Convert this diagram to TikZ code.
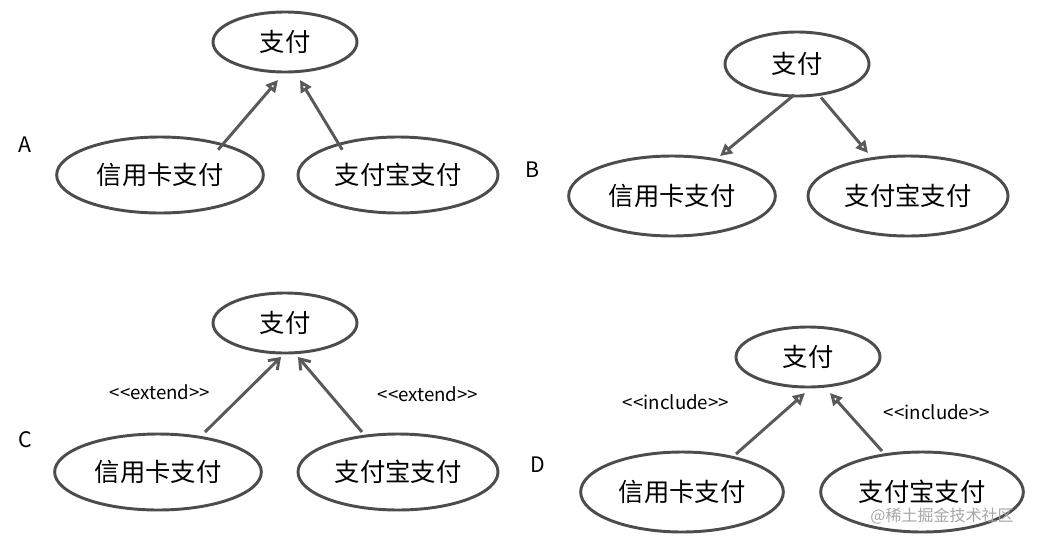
\documentclass[tikz,border=0pt]{standalone}
\usepackage{fontspec}
\setmainfont{Noto Sans CJK SC}
\usetikzlibrary{arrows.meta,shapes.geometric}
\begin{document}
\begin{tikzpicture}[x=0.75pt,y=-0.75pt,
  uc/.style={draw=black!70,line width=2.2pt,ellipse,inner sep=0,minimum width=#1,font=\fontsize{19}{22}\selectfont},
  gen/.style={draw=black!65,line width=2.2pt,-{Triangle[open,length=9pt,width=9pt]}},
  ext/.style={draw=black!65,line width=2.2pt,-{Straight Barb[length=7pt,width=10pt]}},
  lab/.style={font=\fontsize{14}{16}\selectfont},
  let/.style={font=\fontsize{16}{18}\selectfont}]
\useasboundingbox (0,0) rectangle (1039,543);
% A
\node[uc=108pt,minimum height=45pt] (a0) at (285,42) {支付};
\node[uc=155pt,minimum height=57pt] (a1) at (160,175) {信用卡支付};
\node[uc=150pt,minimum height=57pt] (a2) at (398,175) {支付宝支付};
\coordinate (a0l) at (278,80); \coordinate (a0r) at (300,80);
\draw[gen] (a1.north east) ++(-12pt,-2pt) coordinate (as1) -- (a0l);
\draw[gen] (a2.north west) ++(12pt,-2pt) coordinate (as2) -- (a0r);
\node[let] (la) at (25,145) {A};
% B
\node[uc=108pt,minimum height=48pt] (b0) at (797,64) {支付};
\node[uc=155pt,minimum height=60pt] (b1) at (672,196) {信用卡支付};
\node[uc=150pt,minimum height=60pt] (b2) at (908,196) {支付宝支付};
\coordinate (b1t) at (720,156); \coordinate (b2t) at (868,153);
\draw[gen] (b0.south) ++(-2pt,2pt) -- (b1t);
\draw[gen] (b0.south) ++(18pt,0pt) -- (b2t);
\node[let] (lb) at (533,170) {B};
% C
\node[uc=108pt,minimum height=45pt] (c0) at (285,323) {支付};
\node[uc=155pt,minimum height=57pt] (c1) at (158,472) {信用卡支付};
\node[uc=150pt,minimum height=57pt] (c2) at (398,472) {支付宝支付};
\coordinate (c0l) at (281,357); \coordinate (c0r) at (298,357);
\draw[ext] (205,432) -- (c0l);
\draw[ext] (362,432) -- (c0r);
\node[lab] (cl1) at (160,392) {<{}<extend>{}>};
\node[lab] (cl2) at (428,394) {<{}<extend>{}>};
\node[let] (lc) at (25,440) {C};
% D
\node[uc=108pt,minimum height=45pt] (d0) at (808,357) {支付};
\node[uc=152pt,minimum height=60pt] (d1) at (682,492) {信用卡支付};
\node[uc=152pt,minimum height=60pt] (d2) at (922,492) {支付宝支付};
\coordinate (d0l) at (805,393); \coordinate (d0r) at (830,393);
\draw[gen] (736,454) -- (d0l);
\draw[gen] (882,451) -- (d0r);
\node[lab] (dl1) at (676,402) {<{}<include>{}>};
\node[lab] (dl2) at (937,412) {<{}<include>{}>};
\node[let] (ld) at (538,465) {D};
\node[font=\fontsize{12}{14}\selectfont,text=black!35] (wm) at (942,516) {@稀土掘金技术社区};
\end{tikzpicture}
\end{document}
